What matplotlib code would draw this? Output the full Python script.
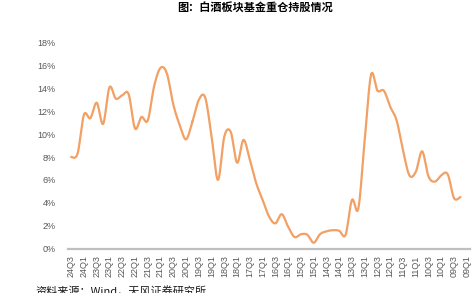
import numpy as np
import matplotlib
matplotlib.use("Agg")
import matplotlib.pyplot as plt

title = "图：白酒板块基金重仓持股情况"
source = "资料来源：Wind，天风证券研究所"

# tick labels (every second quarter, newest first)
tick_labels = ["24Q3", "24Q1", "23Q3", "23Q1", "22Q3", "22Q1", "21Q3", "21Q1",
               "20Q3", "20Q1", "19Q3", "19Q1", "18Q3", "18Q1", "17Q3", "17Q1",
               "16Q3", "16Q1", "15Q3", "15Q1", "14Q3", "14Q1", "13Q3", "13Q1",
               "12Q3", "12Q1", "11Q3", "11Q1", "10Q3", "10Q1", "09Q3", "09Q1"]

# share (%) per quarter, from 24Q3 back to 09Q1 (09Q1 missing)
values = [8.0, 8.3, 11.7, 11.4, 12.75, 10.9, 14.1, 13.1, 13.4, 13.5,
          10.5, 11.5, 11.2, 14.2, 15.8, 15.3, 12.6, 10.8, 9.55, 11.1,
          13.0, 13.2, 9.8, 6.0, 9.8, 10.2, 7.5, 9.5, 7.75, 5.7,
          4.25, 2.8, 2.2, 3.0, 1.9, 1.0, 1.25, 1.2, 0.5, 1.25,
          1.5, 1.6, 1.55, 1.2, 4.25, 3.5, 9.5, 15.2, 13.8, 13.8,
          12.4, 11.2, 8.6, 6.4, 6.7, 8.5, 6.3, 5.85, 6.4, 6.5,
          4.4, 4.5, np.nan]

yticks = [0, 2, 4, 6, 8, 10, 12, 14, 16, 18]

plt.rcParams['font.family'] = ['Liberation Sans', 'Noto Sans CJK SC', 'DejaVu Sans']

fig = plt.figure(figsize=(4.72, 2.93), dpi=100)
ax = fig.add_axes([68/472, 1-248.5/293, 402/472, (248.5-42.7)/293])

# smooth curve (Catmull-Rom) through the data points, like Excel's smoothed line
y = np.array(values, dtype=float)
x = np.arange(len(y), dtype=float)
m = ~np.isnan(y)
xs, ys = x[m], y[m]
px = np.concatenate([[xs[0]], xs, [xs[-1]]])
py = np.concatenate([[ys[0]], ys, [ys[-1]]])
cx, cy = [], []
t = np.linspace(0, 1, 20)
for i in range(1, len(px) - 2):
    p0, p1, p2, p3 = py[i-1], py[i], py[i+1], py[i+2]
    q0, q1, q2, q3 = px[i-1], px[i], px[i+1], px[i+2]
    def cr(a0, a1, a2, a3):
        return 0.5 * ((2*a1) + (-a0 + a2)*t + (2*a0 - 5*a1 + 4*a2 - a3)*t**2
                      + (-a0 + 3*a1 - 3*a2 + a3)*t**3)
    cx.append(cr(q0, q1, q2, q3))
    cy.append(cr(p0, p1, p2, p3))
cx = np.concatenate(cx)
cy = np.concatenate(cy)
ax.plot(cx, cy, color='#F2A064', lw=1.6, solid_capstyle='round')

ax.set_xlim(-0.5, len(y) - 0.5)
ax.set_ylim(0, 18)
ax.set_yticks(yticks)
ax.set_yticklabels([f"{v}%" for v in yticks])
ax.set_xticks(np.arange(0, len(y), 2))
ax.set_xticklabels(tick_labels, rotation=90)
ax.tick_params(axis='both', length=0, labelsize=6.5, labelcolor='#595959')
ax.tick_params(axis='y', pad=9)
ax.tick_params(axis='x', pad=5)
for s in ['top', 'right', 'left']:
    ax.spines[s].set_visible(False)
ax.spines['bottom'].set_color('#BFBFBF')
ax.spines['bottom'].set_linewidth(1.6)

fig.text(255/472, 1-7.5/293, title, ha='center', va='center', fontsize=8,
         fontweight='bold', family=['Noto Sans CJK SC', 'DejaVu Sans'], color='#000000')
fig.text(35/472, 1-286/293, source, ha='left', va='top', fontsize=8,
         family=['Noto Sans CJK SC', 'DejaVu Sans'], color='#1a1a1a')

fig.savefig('out.png', dpi=100)
